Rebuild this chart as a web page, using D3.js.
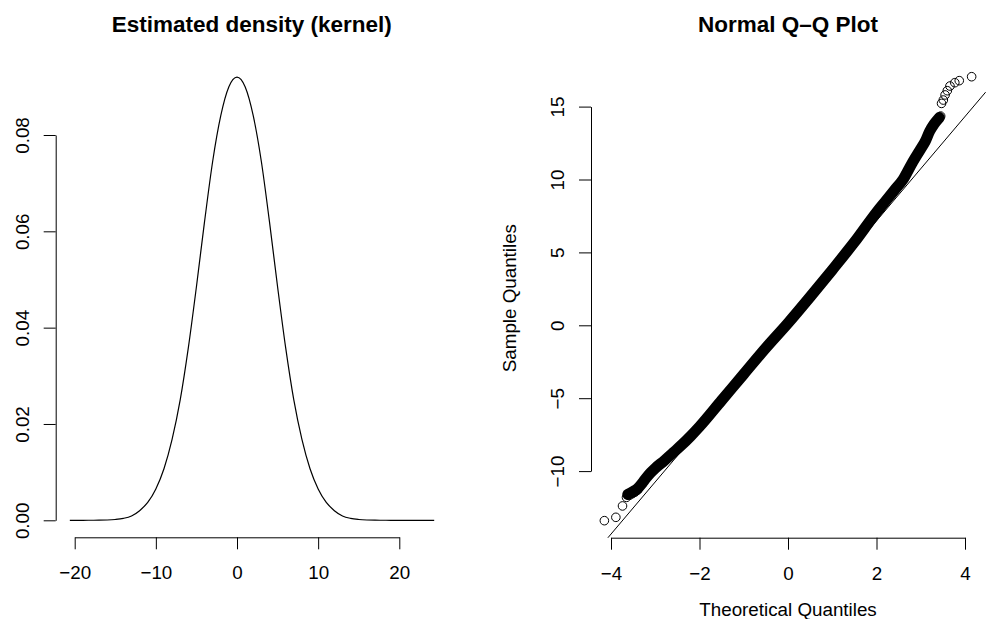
<!DOCTYPE html>
<html lang="en">
<head>
  <meta charset="UTF-8">
  <title>Estimated density and Normal Q-Q Plot</title>
  <style>
    body { margin: 0; background: #fff; }
    svg text { font-family: "Liberation Sans", Arial, Helvetica, sans-serif; fill: #000; }
    .axis path, .axis line { stroke: #000; stroke-width: 1; }
    .axis text { font-size: 18.8px; }
    .title { font-size: 22.5px; font-weight: bold; }
    .lab { font-size: 18.8px; }
  </style>
</head>
<body>
  <svg id="chart" width="987" height="619"></svg>

  <script src="https://d3js.org/d3.v7.min.js"></script>
  <script>
    // left panel: kernel density
    const densityX = [-20.6, -20, -19, -18, -17, -16, -15, -14, -13, -12, -11, -10, -9, -8, -7, -6, -5, -4, -3, -2, -1,
                      0, 1, 2, 3, 4, 5, 6, 7, 8, 9, 10, 11, 12, 13, 14, 15, 16, 17, 18, 19, 20, 21, 22, 23, 24, 24.3];
    const densityY = [0, 0, 0, 0.00001, 0.00002, 0.00006, 0.00017, 0.0004, 0.0009, 0.0020, 0.0037, 0.0065, 0.0107,
                      0.0168, 0.0250, 0.0358, 0.0485, 0.0620, 0.0745, 0.0840, 0.0900,
                      0.0920, 0.0900, 0.0840, 0.0745, 0.0620, 0.0485, 0.0358, 0.0250, 0.0168, 0.0107, 0.0065,
                      0.0037, 0.0020, 0.0009, 0.0004, 0.00017, 0.00006, 0.00002, 0.00001, 0, 0, 0, 0, 0, 0, 0];
    const densityXTicks = [-20, -10, 0, 10, 20];
    const densityYTicks = [0, 0.02, 0.04, 0.06, 0.08];

    // right panel: normal Q-Q plot
    // dense middle part of the point cloud (theoretical, sample)
    const qqBandTheo = [-3.62, -3.5, -3.4, -3.3, -3.2, -3.1, -3.0, -2.8, -2.6, -2.4, -2.2, -2.0, -1.5, -1.0, -0.5,
                        0, 0.5, 1.0, 1.5, 2.0, 2.2, 2.4, 2.6, 2.8, 3.0, 3.1, 3.2, 3.3, 3.42];
    const qqBandSample = [-11.6, -11.4, -11.2, -10.85, -10.45, -10.1, -9.8, -9.3, -8.75, -8.2, -7.6, -6.95, -5.15, -3.35, -1.55,
                          0.15, 1.95, 3.8, 5.7, 7.75, 8.5, 9.25, 10.0, 11.1, 12.1, 12.6, 13.3, 13.8, 14.25];
    // single points in the tails
    const qqLowTheo = [-4.15, -3.89, -3.74, -3.65, -3.58, -3.52, -3.46, -3.40];
    const qqLowSample = [-13.40, -13.17, -12.39, -11.80, -11.65, -11.55, -11.45, -11.30];
    const qqHighTheo = [3.45, 3.47, 3.51, 3.55, 3.60, 3.66, 3.77, 3.87, 4.15];
    const qqHighSample = [14.35, 15.22, 15.45, 15.80, 16.09, 16.41, 16.64, 16.78, 17.05];
    const qqLineIntercept = 0.0;
    const qqLineSlope = 3.58;
    const qqXTicks = [-4, -2, 0, 2, 4];
    const qqYTicks = [-10, -5, 0, 5, 10, 15];

    const svg = d3.select("#chart");
    const tick = 12;

    function bottomAxis(g, scale, ticks, fmt) {
      g.attr("class", "axis")
        .call(d3.axisBottom(scale).tickValues(ticks).tickFormat(fmt).tickSize(tick).tickSizeOuter(0));
      g.selectAll("text").attr("y", 28.5).attr("dy", "0.71em");
    }

    function leftAxis(g, scale, ticks, fmt) {
      g.attr("class", "axis")
        .call(d3.axisLeft(scale).tickValues(ticks).tickFormat(fmt).tickSize(tick).tickSizeOuter(0));
      g.selectAll("text")
        .attr("x", null).attr("dy", null)
        .attr("text-anchor", "middle")
        .attr("transform", "translate(-27,0) rotate(-90)");
    }

    // ---- density panel ----
    const xD = d3.scaleLinear().domain([-20, 20]).range([74.7, 399.3]);
    const yD = d3.scaleLinear().domain([0, 0.08]).range([520.3, 135.0]);
    const left = svg.append("g");

    left.append("text").attr("class", "title")
      .attr("x", (xD(-22.45) + xD(26.1)) / 2).attr("y", 31.5)
      .attr("text-anchor", "middle")
      .text("Estimated density (kernel)");

    bottomAxis(left.append("g").attr("transform", "translate(0,537.3)"), xD, densityXTicks, d3.format("d"));
    leftAxis(left.append("g").attr("transform", "translate(55.7,0)"), yD, densityYTicks, d3.format(".2f"));

    const densityLine = d3.line()
      .x((d, i) => xD(densityX[i]))
      .y(d => yD(d))
      .curve(d3.curveMonotoneX);

    left.append("path")
      .attr("d", densityLine(densityY))
      .attr("fill", "none")
      .attr("stroke", "#000")
      .attr("stroke-width", 1.2);

    // ---- Q-Q panel ----
    const xQ = d3.scaleLinear().domain([-4, 4]).range([611, 965]);
    const yQ = d3.scaleLinear().domain([-10, 15]).range([471.1, 106.6]);
    const qxLim = [-4.47, 4.47];
    const qyLim = [-14.57, 18.3];
    const right = svg.append("g");

    right.append("text").attr("class", "title")
      .attr("x", (xQ(qxLim[0]) + xQ(qxLim[1])) / 2).attr("y", 31.5)
      .attr("text-anchor", "middle")
      .text("Normal Q\u2013Q Plot");

    bottomAxis(right.append("g").attr("transform", "translate(0,537.7)"), xQ, qqXTicks, d3.format("d"));
    leftAxis(right.append("g").attr("transform", "translate(591,0)"), yQ, qqYTicks, d3.format("d"));

    right.append("text").attr("class", "lab")
      .attr("x", xQ(0)).attr("y", 616)
      .attr("text-anchor", "middle")
      .text("Theoretical Quantiles");

    right.append("text").attr("class", "lab")
      .attr("text-anchor", "middle")
      .attr("transform", `translate(516,${(yQ(qyLim[0]) + yQ(qyLim[1])) / 2}) rotate(-90)`)
      .text("Sample Quantiles");

    svg.append("clipPath").attr("id", "qqclip")
      .append("rect")
      .attr("x", xQ(qxLim[0])).attr("y", yQ(qyLim[1]))
      .attr("width", xQ(qxLim[1]) - xQ(qxLim[0]))
      .attr("height", yQ(qyLim[0]) - yQ(qyLim[1]));

    const plotArea = right.append("g").attr("clip-path", "url(#qqclip)");

    // reference line
    plotArea.append("line")
      .attr("x1", xQ(qxLim[0])).attr("y1", yQ(qqLineIntercept + qqLineSlope * qxLim[0]))
      .attr("x2", xQ(qxLim[1])).attr("y2", yQ(qqLineIntercept + qqLineSlope * qxLim[1]))
      .attr("stroke", "#000").attr("stroke-width", 1);

    // dense part of the points: overlapping circles form a solid band
    const bandLine = d3.line()
      .x((d, i) => xQ(qqBandTheo[i]))
      .y(d => yQ(d))
      .curve(d3.curveMonotoneX);

    plotArea.append("path")
      .attr("d", bandLine(qqBandSample))
      .attr("fill", "none")
      .attr("stroke", "#000")
      .attr("stroke-width", 11)
      .attr("stroke-linecap", "round")
      .attr("stroke-linejoin", "round");

    const pts = qqLowTheo.map((t, i) => [t, qqLowSample[i]])
      .concat(qqBandTheo.map((t, i) => [t, qqBandSample[i]]))
      .concat(qqHighTheo.map((t, i) => [t, qqHighSample[i]]));

    plotArea.selectAll("circle")
      .data(pts)
      .enter()
      .append("circle")
      .attr("cx", d => xQ(d[0]))
      .attr("cy", d => yQ(d[1]))
      .attr("r", 4.3)
      .attr("fill", "none")
      .attr("stroke", "#000")
      .attr("stroke-width", 1);
  </script>
</body>
</html>
